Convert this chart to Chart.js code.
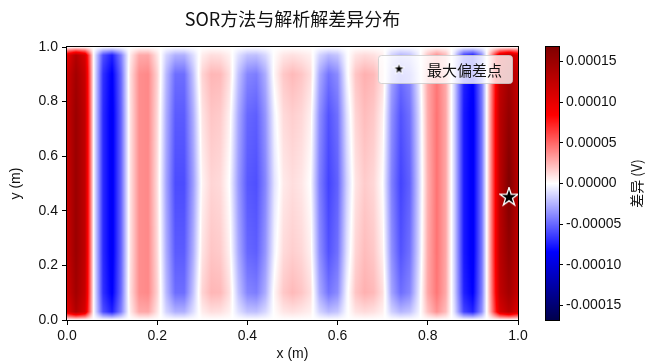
<!DOCTYPE html>
<html>
<head>
<meta charset="utf-8">
<script src="https://cdn.jsdelivr.net/npm/chart.js@4.4.1/dist/chart.umd.min.js"></script>
<style>
  html, body { margin: 0; padding: 0; background: #ffffff; }
  #wrap { width: 650px; height: 364px; }
</style>
</head>
<body>
<div id="wrap"><canvas id="c" width="650" height="364"></canvas></div>
<script>
// Grid nodes of the difference field (metres)
const xNodes = [0, 0.02, 0.04, 0.06, 0.08, 0.10, 0.12, 0.14, 0.16, 0.18, 0.20, 0.22, 0.24, 0.26, 0.28,
  0.30, 0.32, 0.34, 0.36, 0.38, 0.40, 0.42, 0.44, 0.46, 0.48, 0.50, 0.52, 0.54, 0.56, 0.58, 0.60,
  0.62, 0.64, 0.66, 0.68, 0.70, 0.72, 0.74, 0.76, 0.78, 0.80, 0.82, 0.84, 0.86, 0.88, 0.90, 0.92,
  0.94, 0.96, 0.98, 1.00];
const yNodes = [0, 0.03, 0.10, 0.25, 0.50, 0.75, 0.90, 0.97, 1.00];

// SOR minus analytical potential, in units of 1e-5 V, one array per grid row
const rowEdge = [0, 0, 0, 0, 0, 0, 0, 0, 0, 0, 0, 0, 0, 0, 0, 0, 0, 0, 0, 0, 0, 0, 0, 0, 0, 0,
  0, 0, 0, 0, 0, 0, 0, 0, 0, 0, 0, 0, 0, 0, 0, 0, 0, 0, 0, 0, 0, 0, 0, 0, 0];
const rowNearEdge = [10, 13.5, 11, -0.4, -5.8, -7.4, -4.2, 0.6, 2.8, 2.9, 0.9, -1.4, -2.6, -2.6, -1.1,
  0.6, 1.1, 1.0, 0.5, -1.0, -2.0, -2.1, -1.3, 0.1, 0.8, 1.0, 0.8, 0.5, -1.4, -2.3, -1.9, -0.2, 0.9,
  1.2, 1.0, 0.5, -1.5, -2.4, -2.0, -0.5, 2.0, 3.6, 2.2, -1.3, -6.2, -7.3, -3.7, 3.2, 11, 13, 10.5];
const rowInner = [11.5, 14.5, 12, -0.4, -6.8, -8.6, -4.9, 1.0, 3.7, 3.9, 1.5, -2.3, -4.8, -4.8, -2.0,
  1.4, 2.4, 2.3, 1.1, -2.0, -4.0, -4.3, -2.7, 0.3, 1.8, 2.3, 1.9, 1.1, -2.8, -4.6, -3.8, -0.4, 1.9,
  2.6, 2.3, 1.1, -3.0, -4.8, -4.0, -0.9, 2.9, 4.5, 2.8, -1.7, -7.3, -8.5, -4.3, 3.7, 12.5, 14.5, 12];
const rowQuarter = [12, 15, 12.5, -0.5, -7.0, -8.9, -5.1, 0.9, 3.7, 3.9, 1.3, -2.7, -5.4, -5.4, -2.7,
  0.9, 1.9, 1.7, 0.5, -2.8, -5.0, -5.3, -3.5, -0.4, 1.2, 1.6, 1.3, 0.5, -3.7, -5.7, -4.7, -1.1, 1.4,
  2.2, 1.8, 0.5, -3.7, -5.7, -4.7, -1.4, 2.8, 4.6, 2.9, -1.8, -7.6, -8.8, -4.5, 3.9, 13, 15.5, 12.5];
const rowCenter = [12, 15, 12.5, -0.5, -7.0, -8.9, -5.1, 0.9, 3.7, 3.9, 1.1, -3.0, -5.9, -5.9, -3.2,
  0.4, 1.4, 1.2, 0.0, -3.3, -5.5, -5.8, -4.0, -0.9, 0.7, 1.1, 0.8, 0.0, -4.2, -6.2, -5.2, -1.6, 0.9,
  1.7, 1.3, 0.0, -4.2, -6.2, -5.2, -1.6, 2.6, 4.6, 2.9, -1.8, -7.6, -8.8, -4.5, 3.9, 13, 16.8, 13];
const diffRows = [rowEdge, rowNearEdge, rowInner, rowQuarter, rowCenter, rowQuarter, rowInner, rowNearEdge, rowEdge];
const unit = 1e-5;

// Location of the largest deviation
const maxPoint = { x: 0.98, y: 0.45 };

// Colour bar range and tick spacing (V)
const cbarMin = -1.68e-4;
const cbarMax = 1.68e-4;
const cbarStep = 5e-5;

const axisTickStep = 0.2;

const FONT = "'Liberation Sans', Arial, 'Noto Sans CJK SC', sans-serif";
const CJK = "'Noto Sans CJK SC', 'Liberation Sans', sans-serif";
const INK = '#111111';

// matplotlib "seismic" colour map
const seismicStops = [[0, 0, 0, 0.3], [0.25, 0, 0, 1], [0.5, 1, 1, 1], [0.75, 1, 0, 0], [1, 0.5, 0, 0]];
function seismic(t) {
  t = Math.max(0, Math.min(1, t));
  for (let k = 0; k < seismicStops.length - 1; k++) {
    const a = seismicStops[k], b = seismicStops[k + 1];
    if (t <= b[0]) {
      const f = (t - a[0]) / (b[0] - a[0]);
      return [
        Math.round(255 * (a[1] + (b[1] - a[1]) * f)),
        Math.round(255 * (a[2] + (b[2] - a[2]) * f)),
        Math.round(255 * (a[3] + (b[3] - a[3]) * f))
      ];
    }
  }
  return [128, 0, 0];
}

function locate(nodes, v) {
  if (v <= nodes[0]) return [0, 0];
  const n = nodes.length;
  if (v >= nodes[n - 1]) return [n - 2, 1];
  let i = 0;
  while (i < n - 2 && v > nodes[i + 1]) i++;
  return [i, (v - nodes[i]) / (nodes[i + 1] - nodes[i])];
}

// Star marker used for the deviation point and its legend entry
function makeStar(outer, edge) {
  const size = Math.ceil(2 * (outer + edge) + 2);
  const cv = document.createElement('canvas');
  cv.width = size; cv.height = size;
  const g = cv.getContext('2d');
  const c = size / 2, inner = outer * 0.381966;
  g.beginPath();
  for (let k = 0; k < 10; k++) {
    const r = k % 2 === 0 ? outer : inner;
    const ang = -Math.PI / 2 + k * Math.PI / 5;
    const px = c + r * Math.cos(ang), py = c + r * Math.sin(ang);
    if (k === 0) g.moveTo(px, py); else g.lineTo(px, py);
  }
  g.closePath();
  g.lineJoin = 'miter';
  g.lineWidth = edge * 2;
  g.strokeStyle = '#ffffff';
  g.stroke();
  g.fillStyle = '#000000';
  g.fill();
  return cv;
}
const starBig = makeStar(7.5, 1.3);
const starSmall = makeStar(4.5, 0.8);

// Difference field painted with bilinear shading, plus the axes frame
const heatmapLayer = {
  id: 'heatmapLayer',
  beforeDatasetsDraw(chart) {
    const { ctx, chartArea: a, scales } = chart;
    const sx = scales.x, sy = scales.y;
    const w = Math.round(a.right - a.left), h = Math.round(a.bottom - a.top);
    const off = document.createElement('canvas');
    off.width = w; off.height = h;
    const octx = off.getContext('2d');
    const img = octx.createImageData(w, h);
    const cols = [];
    for (let px = 0; px < w; px++) cols.push(locate(xNodes, sx.getValueForPixel(a.left + px + 0.5)));
    for (let py = 0; py < h; py++) {
      const [j, fy] = locate(yNodes, sy.getValueForPixel(a.top + py + 0.5));
      const r0 = diffRows[j], r1 = diffRows[j + 1];
      for (let px = 0; px < w; px++) {
        const [i, fx] = cols[px];
        const top = r0[i] * (1 - fx) + r0[i + 1] * fx;
        const bot = r1[i] * (1 - fx) + r1[i + 1] * fx;
        const v = (top * (1 - fy) + bot * fy) * unit;
        const c = seismic((v - cbarMin) / (cbarMax - cbarMin));
        const o = (py * w + px) * 4;
        img.data[o] = c[0]; img.data[o + 1] = c[1]; img.data[o + 2] = c[2]; img.data[o + 3] = 255;
      }
    }
    octx.putImageData(img, 0, 0);
    ctx.save();
    ctx.drawImage(off, a.left, a.top);
    ctx.strokeStyle = '#000000';
    ctx.lineWidth = 1;
    ctx.strokeRect(Math.round(a.left) - 0.5, Math.round(a.top) - 0.5, w + 1, h + 1);
    ctx.restore();
  }
};

// Colour bar, its label and the in-axes legend
const overlays = {
  id: 'overlays',
  afterDraw(chart) {
    const { ctx, chartArea: a, scales } = chart;
    const cb = scales.cbar;
    const barRight = Math.round(cb.left);
    const barLeft = barRight - 13;
    const top = Math.round(cb.top), bottom = Math.round(cb.bottom);
    ctx.save();
    for (let py = top; py < bottom; py++) {
      const c = seismic((cb.getValueForPixel(py + 0.5) - cbarMin) / (cbarMax - cbarMin));
      ctx.fillStyle = `rgb(${c[0]},${c[1]},${c[2]})`;
      ctx.fillRect(barLeft, py, barRight - barLeft, 1);
    }
    ctx.strokeStyle = '#000000';
    ctx.lineWidth = 1;
    ctx.strokeRect(barLeft - 0.5, top - 0.5, barRight - barLeft + 1, bottom - top + 1);

    // colour bar label, reading bottom to top
    ctx.translate(637, (top + bottom) / 2);
    ctx.rotate(-Math.PI / 2);
    ctx.fillStyle = INK;
    ctx.font = `14px ${CJK}`;
    ctx.textAlign = 'center';
    ctx.textBaseline = 'middle';
    ctx.fillText('差异 (V)', 0, 0);
    ctx.restore();

    // legend box in the upper right corner of the axes
    const ds = chart.data.datasets[0];
    ctx.save();
    ctx.font = `15px ${CJK}`;
    const tw = ctx.measureText(ds.label).width;
    const bw = 49 + tw + 10, bh = 28;
    const bx = a.right - 6 - bw, by = a.top + 8;
    ctx.beginPath();
    ctx.roundRect(bx + 0.5, by + 0.5, bw, bh, 3);
    ctx.fillStyle = 'rgba(255,255,255,0.8)';
    ctx.fill();
    ctx.strokeStyle = 'rgba(204,204,204,0.8)';
    ctx.lineWidth = 1;
    ctx.stroke();
    ctx.drawImage(starSmall, bx + 21 - starSmall.width / 2, by + bh / 2 - starSmall.height / 2);
    ctx.fillStyle = INK;
    ctx.textAlign = 'left';
    ctx.textBaseline = 'middle';
    ctx.fillText(ds.label, bx + 49, by + bh / 2 + 1);
    ctx.restore();
  }
};

const tickFont = { family: FONT, size: 14 };

new Chart(document.getElementById('c'), {
  type: 'scatter',
  data: {
    datasets: [{
      label: '最大偏差点',
      data: [maxPoint],
      pointStyle: starBig,
      pointRadius: 9,
      pointHoverRadius: 9,
      xAxisID: 'x',
      yAxisID: 'y'
    }]
  },
  options: {
    responsive: false,
    animation: false,
    devicePixelRatio: 1,
    layout: { padding: { top: 0, left: 0, right: 0, bottom: 0 } },
    plugins: {
      legend: { display: false },
      tooltip: { enabled: false },
      title: {
        display: true,
        text: 'SOR方法与解析解差异分布',
        fullSize: false,
        color: INK,
        font: { family: CJK, size: 18, weight: 'normal', lineHeight: 1.2 },
        padding: { top: 8, bottom: 17.4 }
      }
    },
    scales: {
      x: {
        type: 'linear', position: 'bottom', min: 0, max: 1,
        ticks: { stepSize: axisTickStep, callback: v => v.toFixed(1), font: tickFont, color: INK, padding: 3, maxRotation: 0 },
        grid: { drawOnChartArea: false, drawTicks: true, tickLength: 5, tickColor: '#000000', tickWidth: 1 },
        border: { display: true, color: '#000000', width: 1 },
        title: { display: true, text: 'x (m)', color: INK, font: tickFont, padding: { top: 0, bottom: 1 } },
        afterFit(s) { s.height = 44; }
      },
      y: {
        type: 'linear', position: 'left', min: 0, max: 1,
        ticks: { stepSize: axisTickStep, callback: v => v.toFixed(1), font: tickFont, color: INK, padding: 4 },
        grid: { drawOnChartArea: false, drawTicks: true, tickLength: 5, tickColor: '#000000', tickWidth: 1 },
        border: { display: true, color: '#000000', width: 1 },
        title: { display: true, text: 'y (m)', color: INK, font: tickFont, padding: { top: 8, bottom: 0 } },
        afterFit(s) { s.width = 67; }
      },
      gap: {
        type: 'linear', position: 'right', weight: 1,
        ticks: { display: false }, grid: { display: false }, border: { display: false },
        afterFit(s) { s.width = 41; }
      },
      cbar: {
        type: 'linear', position: 'right', weight: 2, min: cbarMin, max: cbarMax,
        ticks: { stepSize: cbarStep, includeBounds: false, callback: v => v.toFixed(5), font: tickFont, color: INK, padding: 3 },
        grid: { drawOnChartArea: false, drawTicks: true, tickLength: 4, tickColor: '#000000', tickWidth: 1 },
        border: { display: true, color: '#000000', width: 1 },
        afterFit(s) { s.width = 91; }
      }
    }
  },
  plugins: [heatmapLayer, overlays]
});
</script>
</body>
</html>
